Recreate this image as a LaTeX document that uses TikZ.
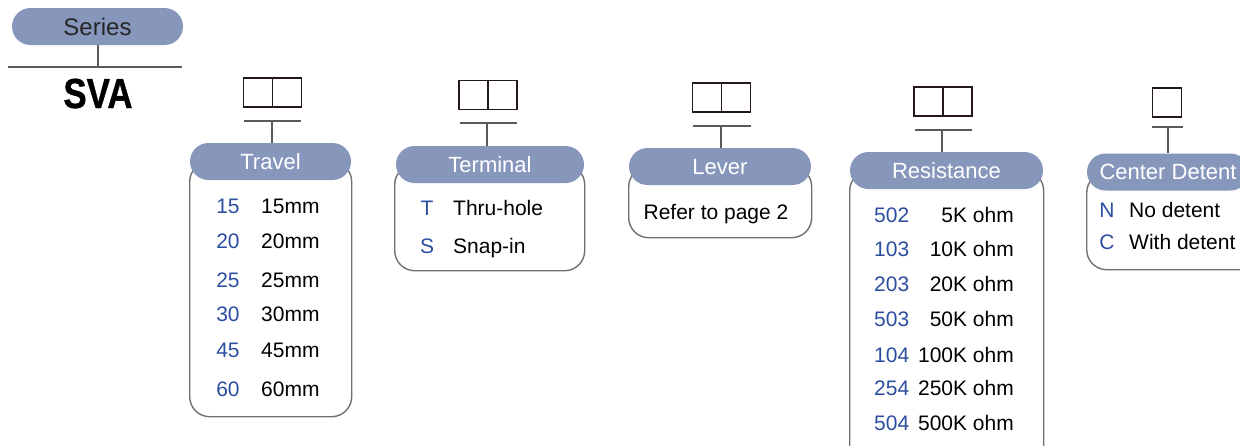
\documentclass[tikz,border=0pt]{standalone}
\usepackage{fontspec}
\setmainfont{Liberation Sans}
\newfontfamily\svafont{Liberation Sans Bold}[FakeBold=1]
\usepackage{graphicx}
\definecolor{pillc}{HTML}{8796BB}
\definecolor{codec}{HTML}{2B4EA0}
\definecolor{edgec}{HTML}{707070}
\definecolor{connc}{HTML}{5A5A5A}
\definecolor{sqc}{HTML}{231815}
\begin{document}
\begin{tikzpicture}[x=1pt,y=-1pt,
  pillnode/.style={fill=pillc, rounded corners=18.5pt, minimum height=37pt, inner sep=0pt,
    text=white, font=\fontsize{22}{22}\selectfont, text height=15.6pt, text depth=0pt},
  boxnode/.style={draw=edgec, line width=1.4pt, rounded corners=20pt, inner sep=0pt, anchor=north west, fill=white},
  sqnode/.style={draw=sqc, line width=1.6pt, inner sep=0pt, minimum height=29pt},
  conn/.style={draw=connc, line width=1.8pt},
  codetxt/.style={text=codec, font=\fontsize{21}{21}\selectfont, inner sep=0pt},
  valtxt/.style={text=black, font=\fontsize{21}{21}\selectfont, inner sep=0pt},
]
\useasboundingbox (0,0) rectangle (1240,445);
\clip (0,0) rectangle (1240,445);

% ---------- Series ----------
\node[pillnode, text=black!85, font=\fontsize{24}{24}\selectfont, text height=17.2pt,
  minimum width=171pt] (series) at (97.5,26.5) {Series};
\coordinate (sbl) at (8,67);
\coordinate (sbr) at (182,67);
\coordinate (sbm) at (98,67);
\draw[conn] (sbl) -- (sbr);
\draw[conn] (series.south -| sbm) -- (sbm);
\node[anchor=base, inner sep=0pt, font=\fontsize{42}{42}\svafont] (sva) at (98,108)
  {\scalebox{0.83}[1]{SVA}};

% ---------- Travel ----------
\node[sqnode, minimum width=58pt] (sq1) at (272.5,92.5) {};
\draw[draw=sqc, line width=1.6pt] (sq1.north) -- (sq1.south);
\coordinate (b1l) at (244,121); \coordinate (b1r) at (301,121); \coordinate (b1m) at (272,121);
\draw[conn] (b1l) -- (b1r);
\node[boxnode, minimum width=162pt, minimum height=255pt] (box1) at (189,161) {};
\node[pillnode, minimum width=161pt] (pill1) at (270.5,161.5) {Travel};
\draw[conn] (b1m) -- (pill1.north -| b1m);
\foreach \c/\v/\y [count=\i] in {15/15mm/213, 20/20mm/248, 25/25mm/287, 30/30mm/321, 45/45mm/357, 60/60mm/396}{
  \node[codetxt, anchor=base] (t\i c) at (228,\y) {\c};
  \node[valtxt, anchor=base west] (t\i v) at (261,\y) {\v};
}

% ---------- Terminal ----------
\node[sqnode, minimum width=58pt] (sq2) at (488,95) {};
\draw[draw=sqc, line width=1.6pt] (sq2.north) -- (sq2.south);
\coordinate (b2l) at (460,123); \coordinate (b2r) at (517,123); \coordinate (b2m) at (487,123);
\draw[conn] (b2l) -- (b2r);
\node[boxnode, minimum width=190pt, minimum height=106pt] (box2) at (394,164) {};
\node[pillnode, minimum width=188pt] (pill2) at (490,164.5) {Terminal};
\draw[conn] (b2m) -- (pill2.north -| b2m);
\node[codetxt, anchor=base] (r1c) at (427,215) {T};
\node[valtxt, anchor=base west] (r1v) at (453,215) {Thru-hole};
\node[codetxt, anchor=base] (r2c) at (427,253) {S};
\node[valtxt, anchor=base west] (r2v) at (453,253) {Snap-in};

% ---------- Lever ----------
\node[sqnode, minimum width=58pt] (sq3) at (721.5,97.5) {};
\draw[draw=sqc, line width=1.6pt] (sq3.north) -- (sq3.south);
\coordinate (b3l) at (693,126); \coordinate (b3r) at (751,126); \coordinate (b3m) at (721,126);
\draw[conn] (b3l) -- (b3r);
\node[boxnode, minimum width=183pt, minimum height=71pt] (box3) at (628,166) {};
\node[pillnode, minimum width=182pt] (pill3) at (720,166.5) {Lever};
\draw[conn] (b3m) -- (pill3.north -| b3m);
\node[valtxt, anchor=base] (lv) at (716,219) {Refer to page 2};

% ---------- Resistance ----------
\node[sqnode, minimum width=58pt] (sq4) at (943,101.5) {};
\draw[draw=sqc, line width=1.6pt] (sq4.north) -- (sq4.south);
\coordinate (b4l) at (915,130); \coordinate (b4r) at (972,130); \coordinate (b4m) at (942,130);
\draw[conn] (b4l) -- (b4r);
\node[boxnode, minimum width=194pt, minimum height=300pt] (box4) at (849,170) {};
\node[pillnode, minimum width=193pt] (pill4) at (946.5,170.5) {Resistance};
\draw[conn] (b4m) -- (pill4.north -| b4m);
\foreach \c/\v/\y [count=\i] in {502/5K ohm/222, 103/10K ohm/256, 203/20K ohm/291, 503/50K ohm/326, 104/100K ohm/362, 254/250K ohm/395, 504/500K ohm/430}{
  \node[codetxt, anchor=base west] (s\i c) at (874,\y) {\c};
  \node[valtxt, anchor=base east] (s\i v) at (1014,\y) {\v};
}

% ---------- Center Detent ----------
\node[sqnode, minimum width=29pt] (sq5) at (1167,102.5) {};
\coordinate (b5l) at (1152,127); \coordinate (b5r) at (1183,127); \coordinate (b5m) at (1168,127);
\draw[conn] (b5l) -- (b5r);
\node[boxnode, minimum width=180pt, minimum height=97pt] (box5) at (1086,172) {};
\node[pillnode, minimum width=162pt] (pill5) at (1168,172) {Center Detent};
\draw[conn] (b5m) -- (pill5.north -| b5m);
\node[codetxt, anchor=base] (n1c) at (1107,217) {N};
\node[valtxt, anchor=base west] (n1v) at (1129,217) {No detent};
\node[codetxt, anchor=base] (n2c) at (1107,249) {C};
\node[valtxt, anchor=base west] (n2v) at (1129,249) {With detent};
\end{tikzpicture}
\end{document}
